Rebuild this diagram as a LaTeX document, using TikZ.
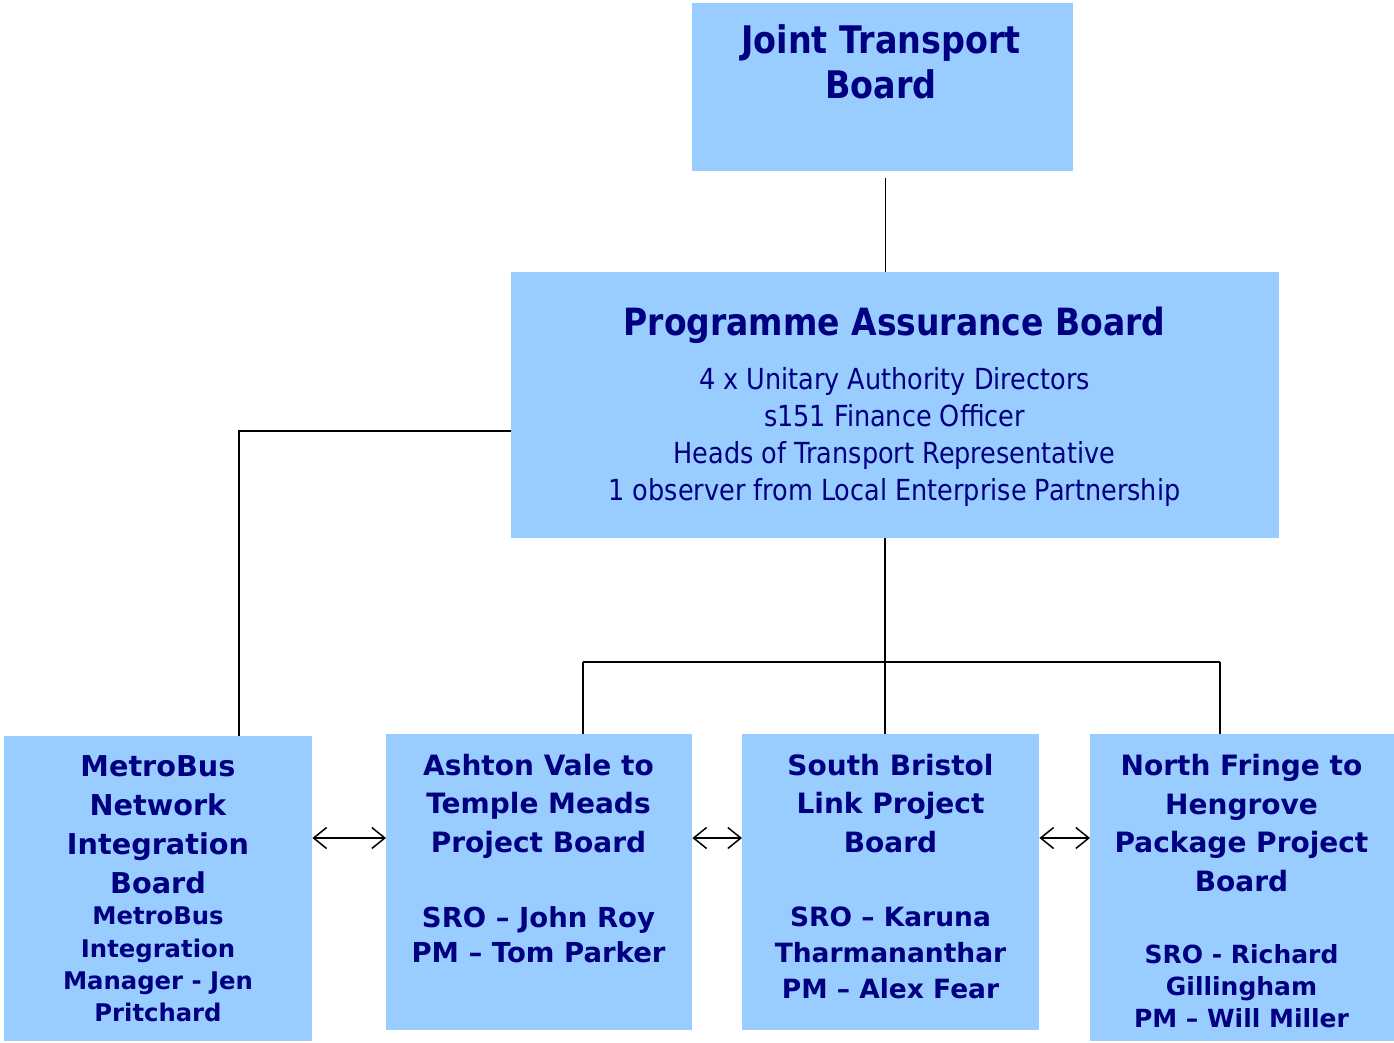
\documentclass[tikz,border=0pt]{standalone}
\usepackage{fontspec}
\setmainfont{DejaVu Sans}
\newfontfamily\narrowfont[FakeStretch=0.88]{DejaVu Sans}
\usetikzlibrary{arrows.meta,calc}
\definecolor{boxfill}{HTML}{99CCFF}
\definecolor{navy}{HTML}{000080}
\begin{document}
\begin{tikzpicture}[x=1pt,y=-1pt,
  board/.style={fill=boxfill,draw=none,inner sep=0pt,anchor=north west},
  txt/.style={text=navy,align=center,inner sep=0pt,anchor=north},
  link/.style={draw=black,line width=1.5pt},
  dbl/.style={draw=black,line width=1.5pt,{Straight Barb[length=13pt,width=21pt]}-{Straight Barb[length=13pt,width=21pt]}}]
\useasboundingbox (0,0) rectangle (1394,1042);

% boards
\node[board,minimum width=381pt,minimum height=168pt] (jtb) at (692,3) {};
\node[board,minimum width=768pt,minimum height=266pt] (pab) at (511,272) {};
\node[board,minimum width=308pt,minimum height=305pt] (mnb) at (4,736) {};
\node[board,minimum width=306pt,minimum height=296pt] (av) at (386,734) {};
\node[board,minimum width=297pt,minimum height=296pt] (sb) at (742,734) {};
\node[board,minimum width=304pt,minimum height=307pt] (nf) at (1090,734) {};

% board texts
\node[txt,font=\narrowfont\bfseries\fontsize{38}{45}\selectfont] (jtb-t) at (881,24) {Joint Transport\\Board};
\node[txt,font=\narrowfont\bfseries\fontsize{37.5}{40}\selectfont] (pab-t) at (894.5,307) {Programme Assurance Board};
\node[txt,font=\narrowfont\fontsize{29}{37}\selectfont] (pab-m) at (894.5,367) {4 x Unitary Authority Directors\\s151 Finance Officer\\Heads of Transport Representative\\1 observer from Local Enterprise Partnership};

\node[txt,font=\bfseries\fontsize{28.7}{39}\selectfont] (mnb-t) at (158,755) {MetroBus\\Network\\Integration\\Board};
\node[txt,font=\bfseries\fontsize{24.3}{32.3}\selectfont] (mnb-m) at (158,907) {MetroBus\\Integration\\Manager - Jen\\Pritchard};

\node[txt,font=\bfseries\fontsize{28}{38.5}\selectfont] (av-t) at (538.5,754) {Ashton Vale to\\Temple Meads\\Project Board};
\node[txt,font=\bfseries\fontsize{27.5}{35}\selectfont] (av-m) at (538.5,906) {SRO -- John Roy\\PM -- Tom Parker};

\node[txt,font=\bfseries\fontsize{28}{38.5}\selectfont] (sb-t) at (890.5,754) {South Bristol\\Link Project\\Board};
\node[txt,font=\bfseries\fontsize{26.5}{36}\selectfont] (sb-m) at (890.5,907) {SRO -- Karuna\\Tharmananthar\\PM -- Alex Fear};

\node[txt,font=\bfseries\fontsize{28}{38.7}\selectfont] (nf-t) at (1241.5,754) {North Fringe to\\Hengrove\\Package Project\\Board};
\node[txt,font=\bfseries\fontsize{25}{32}\selectfont] (nf-m) at (1241.5,944) {SRO - Richard\\Gillingham\\PM -- Will Miller};

% reporting lines
\coordinate (busL) at (583,662);
\coordinate (busR) at (1220,662);
\coordinate (arrowrow) at (0,838);
\draw[link] ([xshift=3pt,yshift=-7pt]jtb.south) -- ([xshift=3pt]jtb.south |- pab.north);
\draw[link] ([yshift=-26pt]pab.west) -| ([xshift=81pt]mnb.north);
\draw[link] ([xshift=-10pt]pab.south) -- ([xshift=-10pt]pab.south |- sb.north);
\draw[link] (busL) -- (busR);
\draw[link] (busL) -- (busL |- av.north);
\draw[link] (busR) -- (busR |- nf.north);

% peer links
\draw[dbl] (mnb.east |- arrowrow) -- (av.west |- arrowrow);
\draw[dbl] (av.east |- arrowrow) -- (sb.west |- arrowrow);
\draw[dbl] (sb.east |- arrowrow) -- (nf.west |- arrowrow);
\end{tikzpicture}
\end{document}
